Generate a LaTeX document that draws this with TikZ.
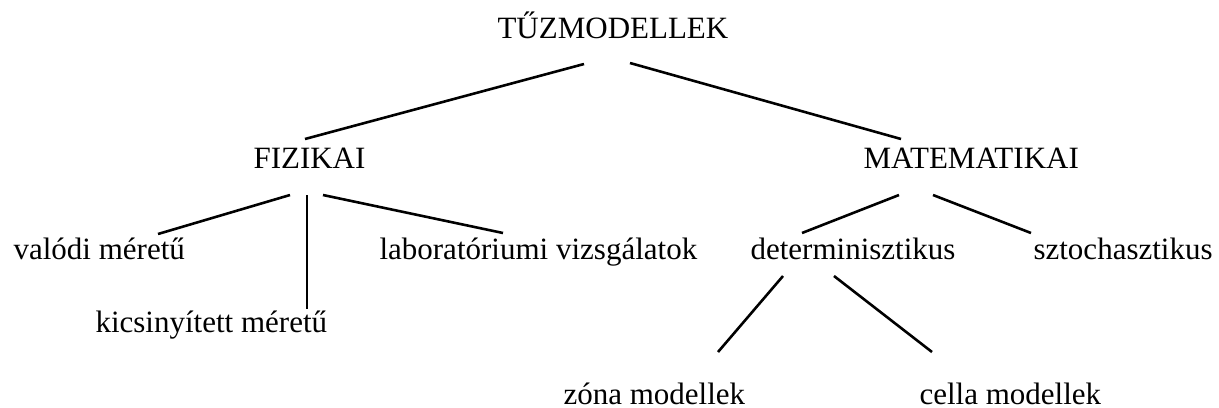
\documentclass[tikz,border=0pt]{standalone}
\usepackage{fontspec}
\setmainfont{Liberation Serif}
\usepackage{tikz}

\begin{document}
\begin{tikzpicture}[
    x=0.387pt, y=-0.387pt,
    lbl/.style={inner sep=0pt, anchor=base west, text depth=0pt, font=\fontsize{12}{14}\selectfont},
    branch/.style={line width=1pt, line cap=butt}
]
    \useasboundingbox (0,0) rectangle (1219,407);

    % levels of the tree
    \node[lbl] (tuz) at (497,38) {TŰZMODELLEK};
    \node[lbl] (fiz) at (253,168) {FIZIKAI};
    \node[lbl] (mat) at (863,168) {MATEMATIKAI};
    \node[lbl] (valodi) at (13,259) {valódi méretű};
    \node[lbl] (kics) at (95,332) {kicsinyített méretű};
    \node[lbl] (labor) at (379,259) {laboratóriumi vizsgálatok};
    \node[lbl] (det) at (750,259) {determinisztikus};
    \node[lbl] (szto) at (1033,259) {sztochasztikus};
    \node[lbl] (zona) at (563,404) {zóna modellek};
    \node[lbl] (cella) at (919,404) {cella modellek};

    % line ends
    \coordinate (tuz-l) at (584,64);
    \coordinate (tuz-r) at (630,63);
    \coordinate (fiz-t) at (305,139);
    \coordinate (mat-t) at (901,139);
    \coordinate (fiz-l) at (290,195);
    \coordinate (fiz-m) at (307,195);
    \coordinate (fiz-r) at (323,195);
    \coordinate (valodi-t) at (158,234);
    \coordinate (kics-t) at (307,309);
    \coordinate (labor-t) at (503,233);
    \coordinate (mat-l) at (899,195);
    \coordinate (mat-r) at (933,195);
    \coordinate (det-t) at (802,233);
    \coordinate (szto-t) at (1031,233);
    \coordinate (det-l) at (783,276);
    \coordinate (det-r) at (834,276);
    \coordinate (zona-t) at (718,352);
    \coordinate (cella-t) at (932,352);

    \draw[branch] (tuz-l) -- (fiz-t);
    \draw[branch] (tuz-r) -- (mat-t);
    \draw[branch] (fiz-l) -- (valodi-t);
    \draw[branch] (fiz-m) -- (kics-t);
    \draw[branch] (fiz-r) -- (labor-t);
    \draw[branch] (mat-l) -- (det-t);
    \draw[branch] (mat-r) -- (szto-t);
    \draw[branch] (det-l) -- (zona-t);
    \draw[branch] (det-r) -- (cella-t);
\end{tikzpicture}
\end{document}
